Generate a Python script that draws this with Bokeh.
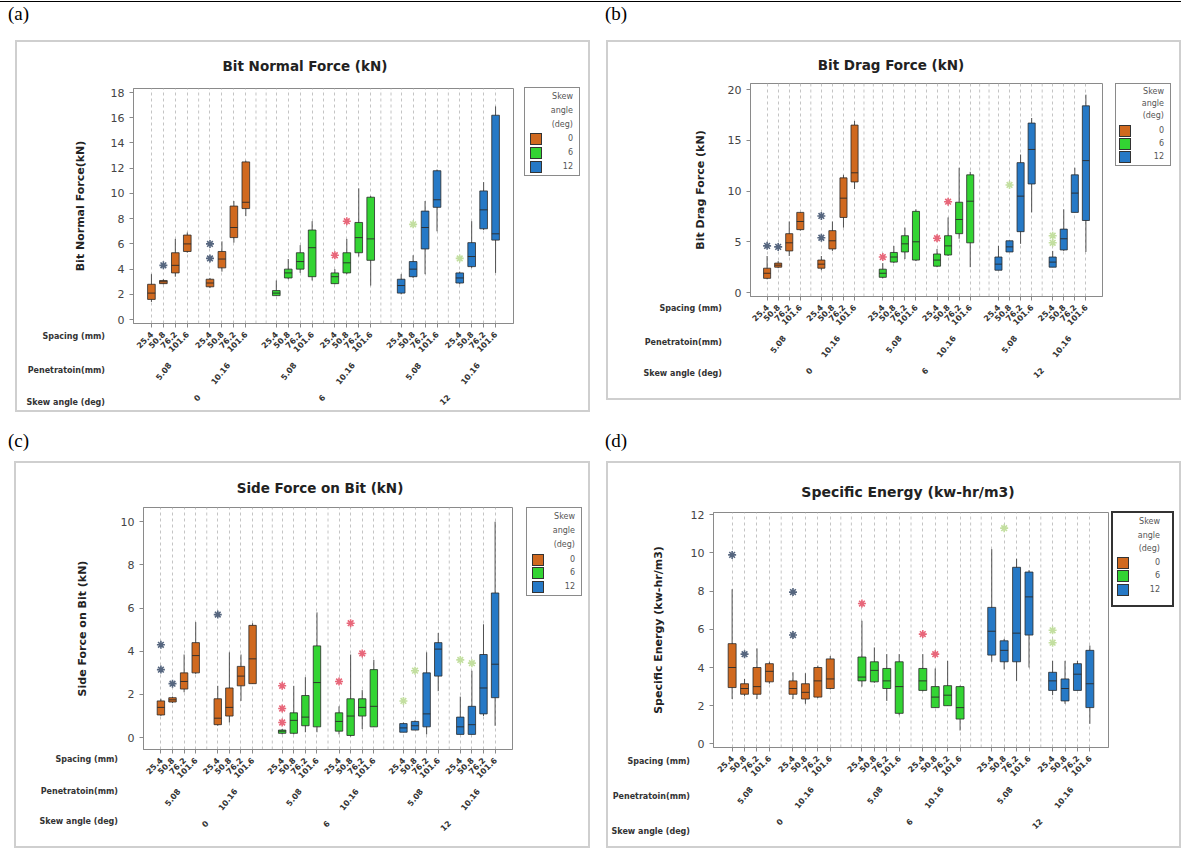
import math
from bokeh.plotting import figure
from bokeh.models import (ColumnDataSource, FactorRange, Range1d, Div, Spacer, CDSView, GroupFilter)
from bokeh.layouts import column, row
from bokeh.transform import dodge
from bokeh.embed import file_html
from bokeh.resources import INLINE

FONT = "DejaVu Sans"

skew_angles = ["0", "6", "12"]
penetrations = ["5.08", "10.16"]
spacings = ["25.4", "50.8", "76.2", "101.6"]

box_colors = {"0": "#D0691F", "6": "#33D433", "12": "#2679C6"}
outlier_colors = {"0": "#56667f", "6": "#e8677a", "12": "#c3dfa0"}

# ---------------- (a) Bit Normal Force (kN) ----------------
a_title = "Bit Normal Force (kN)"
a_ylabel = "Bit Normal Force(kN)"
a_low  = [1.4, 2.8, 3.4, 5.3, 2.5, 3.8, 6.1, 8.2, 1.9, 3.2, 3.7, 3.1, 2.8, 3.6, 5.0, 2.7, 2.0, 3.3, 3.6, 7.0, 2.8, 4.1, 7.1, 3.7]
a_q1   = [1.6, 2.85, 3.7, 5.4, 2.6, 4.1, 6.5, 8.8, 1.9, 3.3, 4.0, 3.4, 2.85, 3.7, 5.3, 4.7, 2.1, 3.4, 5.6, 8.9, 2.9, 4.2, 7.2, 6.3]
a_med  = [2.1, 3.0, 4.3, 6.0, 2.9, 4.8, 7.3, 9.3, 2.1, 3.7, 4.6, 5.7, 3.4, 4.5, 6.5, 6.4, 2.7, 4.0, 7.3, 9.5, 3.3, 5.0, 8.7, 6.8]
a_q3   = [2.8, 3.1, 5.3, 6.7, 3.2, 5.4, 9.0, 12.5, 2.3, 4.0, 5.3, 7.1, 3.7, 5.3, 7.7, 9.7, 3.2, 4.6, 8.6, 11.8, 3.7, 6.1, 10.2, 16.2]
a_high = [3.6, 3.2, 6.4, 6.9, 3.3, 6.2, 9.4, 12.6, 3.1, 4.8, 5.9, 7.8, 4.0, 6.4, 10.4, 9.8, 3.6, 5.1, 9.4, 11.9, 3.8, 7.8, 10.9, 16.9]
a_out_idx = [1, 4, 4, 12, 13, 17, 20]
a_out_val = [4.3, 4.85, 6.0, 5.1, 7.8, 7.55, 4.85]
a_yticks = [0, 2, 4, 6, 8, 10, 12, 14, 16, 18]

# ---------------- (b) Bit Drag Force (kN) ----------------
b_title = "Bit Drag Force (kN)"
b_ylabel = "Bit Drag Force (kN)"
b_low  = [1.3, 2.4, 3.6, 6.1, 2.2, 4.1, 6.4, 10.2, 1.4, 2.9, 3.3, 3.1, 2.5, 3.6, 5.3, 2.5, 2.2, 4.0, 4.8, 7.9, 2.5, 4.1, 7.9, 4.0]
b_q1   = [1.4, 2.5, 4.1, 6.2, 2.4, 4.3, 7.4, 10.9, 1.5, 3.0, 4.0, 3.2, 2.6, 3.7, 5.8, 4.9, 2.2, 4.0, 6.0, 10.7, 2.5, 4.2, 7.9, 7.1]
b_med  = [1.9, 2.7, 4.9, 7.0, 2.8, 5.1, 9.3, 11.8, 1.9, 3.5, 4.8, 5.0, 3.2, 4.6, 7.2, 9.0, 2.8, 4.5, 9.5, 14.1, 3.0, 5.3, 9.8, 13.0]
b_q3   = [2.4, 2.9, 5.8, 7.9, 3.2, 6.1, 11.3, 16.5, 2.3, 3.95, 5.6, 8.0, 3.8, 5.6, 8.9, 11.6, 3.5, 5.1, 12.8, 16.7, 3.5, 6.25, 11.6, 18.4]
b_high = [3.6, 3.1, 7.0, 7.9, 3.6, 7.0, 11.6, 16.9, 2.9, 4.6, 6.4, 8.2, 4.3, 7.4, 12.3, 11.9, 4.6, 5.1, 13.6, 17.2, 4.1, 8.2, 12.3, 19.5]
b_out_idx = [0, 1, 4, 4, 8, 12, 13, 17, 20, 20]
b_out_val = [4.6, 4.5, 5.4, 7.55, 3.5, 5.35, 8.95, 10.6, 4.9, 5.6]
b_yticks = [0, 5, 10, 15, 20]

# ---------------- (c) Side Force on Bit (kN) ----------------
c_title = "Side Force on Bit (kN)"
c_ylabel = "Side Force on Bit (kN)"
c_low  = [1.0, 1.6, 2.1, 2.95, 0.55, 0.7, 1.7, 2.5, 0.15, 0.15, 0.25, 0.25, 0.15, 0.05, 0.4, 0.5, 0.25, 0.35, 0.15, 2.15, 0.15, 0.15, 1.0, 0.55]
c_q1   = [1.05, 1.65, 2.25, 3.0, 0.6, 1.0, 2.4, 2.5, 0.2, 0.2, 0.55, 0.5, 0.3, 0.1, 1.0, 0.5, 0.25, 0.35, 0.5, 2.85, 0.15, 0.15, 1.1, 1.85]
c_med  = [1.4, 1.75, 2.6, 3.8, 0.9, 1.4, 2.85, 3.65, 0.3, 0.8, 0.95, 2.55, 0.75, 1.0, 1.4, 1.45, 0.45, 0.55, 1.1, 4.1, 0.5, 0.6, 2.3, 3.4]
c_q3   = [1.7, 1.85, 3.0, 4.4, 1.8, 2.3, 3.3, 5.2, 0.35, 1.15, 1.95, 4.25, 1.15, 1.8, 1.8, 3.15, 0.65, 0.75, 3.0, 4.4, 0.95, 1.45, 3.85, 6.7]
c_high = [1.8, 1.9, 3.85, 5.35, 2.4, 3.95, 3.85, 5.3, 0.4, 2.4, 2.8, 5.8, 1.45, 3.85, 2.2, 3.6, 0.7, 0.8, 3.95, 4.85, 1.9, 3.1, 5.25, 10.0]
c_out_idx = [0, 0, 1, 4, 8, 8, 8, 12, 13, 14, 16, 17, 20, 21]
c_out_val = [3.15, 4.3, 2.5, 5.7, 0.7, 1.35, 2.4, 2.6, 5.3, 3.9, 1.7, 3.1, 3.6, 3.45]
c_yticks = [0, 2, 4, 6, 8, 10]

# ---------------- (d) Specific Energy (kw-hr/m3) ----------------
d_title = "Specific Energy (kw-hr/m3)"
d_ylabel = "Specific Energy (kw-hr/m3)"
d_low  = [2.35, 2.5, 2.35, 3.15, 2.35, 2.1, 2.4, 2.85, 3.0, 3.2, 2.25, 1.5, 2.75, 1.9, 2.0, 0.7, 4.3, 3.9, 3.3, 4.0, 2.55, 2.1, 2.8, 1.05]
d_q1   = [2.95, 2.6, 2.6, 3.25, 2.6, 2.35, 2.45, 2.9, 3.3, 3.25, 2.9, 1.6, 2.8, 1.9, 2.0, 1.3, 4.65, 4.3, 4.3, 5.7, 2.8, 2.25, 2.8, 1.9]
d_med  = [4.0, 2.9, 3.0, 3.8, 2.9, 2.7, 3.3, 3.4, 3.5, 3.85, 3.3, 3.0, 3.3, 2.45, 2.55, 1.9, 5.9, 4.9, 5.8, 7.7, 3.3, 2.9, 3.65, 3.15]
d_q3   = [5.25, 3.15, 4.0, 4.2, 3.3, 3.15, 4.0, 4.45, 4.55, 4.3, 3.95, 4.3, 3.95, 3.0, 3.05, 3.0, 7.15, 5.4, 9.25, 9.0, 3.75, 3.4, 4.2, 4.9]
d_high = [8.1, 3.4, 5.0, 4.3, 3.75, 3.7, 4.1, 4.6, 6.45, 5.05, 4.7, 4.7, 4.7, 3.95, 4.35, 3.05, 10.2, 5.5, 9.7, 9.1, 4.35, 4.35, 4.35, 5.15]
d_out_idx = [0, 1, 4, 4, 8, 12, 13, 17, 20, 20]
d_out_val = [9.9, 4.7, 5.7, 7.95, 7.35, 5.75, 4.7, 11.3, 5.3, 5.95]
d_yticks = [0, 2, 4, 6, 8, 10, 12]

row_titles = ["Spacing (mm)", "Penetratoin(mm)", "Skew angle (deg)"]
legend_title_lines = ["Skew", "angle", "(deg)"]
panel_tags = ["(a)", "(b)", "(c)", "(d)"]

factors = [(s, pn, sp) for s in skew_angles for pn in penetrations for sp in spacings]


def make_panel(low, q1, med, q3, high, out_idx, out_val, ylabel, yr, yticks,
               W, H, mbl, mbr, mbt, mbb, ax_stand):
    xr = FactorRange(*factors, factor_padding=0, subgroup_padding=0.9, group_padding=1.55,
                     range_padding=1, range_padding_units="absolute")
    p = figure(x_range=xr, y_range=Range1d(yr[0], yr[1]), width=W, height=H,
               output_backend="svg", toolbar_location=None,
               min_border_left=mbl, min_border_right=mbr, min_border_top=mbt,
               min_border_bottom=mbb)
    p.background_fill_color = "white"
    p.border_fill_color = "white"
    p.outline_line_color = "#8a8a8a"
    p.outline_line_width = 1

    p.ygrid.visible = False
    p.xgrid.grid_line_color = "#c4c4c4"
    p.xgrid.grid_line_dash = "3 3"
    p.xgrid.grid_line_width = 1

    # extra dashed gridlines in the gaps between groups
    gap_x = []
    for si, s in enumerate(skew_angles):
        for pi_, pn in enumerate(penetrations):
            last = (s, pn, spacings[-1])
            if pi_ == 0:
                gap_x.append(list(last) + [0.95])
            elif si < len(skew_angles) - 1:
                gap_x.append(list(last) + [0.85])
                gap_x.append(list(last) + [1.7])
    gsrc = ColumnDataSource(dict(x=gap_x, y0=[yr[0]] * len(gap_x), y1=[yr[1]] * len(gap_x)))
    p.segment(x0="x", y0="y0", x1="x", y1="y1", source=gsrc, line_color="#c4c4c4",
              line_dash="3 3", line_width=1)

    src = ColumnDataSource(dict(
        x=factors, low=low, q1=q1, med=med, q3=q3, high=high,
        skew=[f[0] for f in factors],
    ))
    p.segment(x0="x", y0="low", x1="x", y1="high", source=src, line_color="#505050",
              line_width=1)
    for s in skew_angles:
        view = CDSView(filter=GroupFilter(column_name="skew", group=s))
        p.vbar(x="x", width=0.64, bottom="q1", top="q3", source=src, view=view,
               fill_color=box_colors[s], line_color="#2a2a2a", line_width=0.8)
    p.segment(x0=dodge("x", -0.32, range=xr), y0="med", x1=dodge("x", 0.32, range=xr),
              y1="med", source=src, line_color="#2a2a2a", line_width=0.9)

    osrc = ColumnDataSource(dict(
        x=[factors[i] for i in out_idx], y=out_val,
        color=[outlier_colors[factors[i][0]] for i in out_idx],
    ))
    p.scatter(x="x", y="y", source=osrc, marker="asterisk", size=8, line_color="color",
              line_width=1.6)

    p.yaxis.ticker = yticks
    p.yaxis.axis_label = ylabel
    p.yaxis.axis_label_text_font = FONT
    p.yaxis.axis_label_text_font_size = "11px"
    p.yaxis.axis_label_text_font_style = "bold"
    p.yaxis.axis_label_text_color = "#222"
    p.yaxis.axis_label_standoff = ax_stand
    p.yaxis.major_label_text_font = FONT
    p.yaxis.major_label_text_font_size = "11px"
    p.yaxis.major_label_text_color = "#444"
    p.yaxis.minor_tick_line_color = None
    p.yaxis.major_tick_in = 0
    p.yaxis.major_tick_out = 4
    p.yaxis.axis_line_color = "#8a8a8a"
    p.yaxis.major_tick_line_color = "#8a8a8a"

    p.xaxis.axis_line_color = "#8a8a8a"
    p.xaxis.major_tick_line_color = "#8a8a8a"
    p.xaxis.major_tick_in = 0
    p.xaxis.major_tick_out = 4
    p.xaxis.separator_line_color = None
    p.xaxis.major_label_orientation = math.pi / 4
    p.xaxis.subgroup_label_orientation = 0.9
    p.xaxis.group_label_orientation = math.pi / 4
    for pre in ("major_label_text", "subgroup_text", "group_text"):
        setattr(p.xaxis, pre + "_font", FONT)
        setattr(p.xaxis, pre + "_font_size", "8px")
        setattr(p.xaxis, pre + "_font_style", "bold")
        setattr(p.xaxis, pre + "_color", "#333")
    return p


# Row 1 shares top/bottom borders (43 / 86); row 2 shares (46 / 98).
fa = make_panel(a_low, a_q1, a_med, a_q3, a_high, a_out_idx, a_out_val, a_ylabel,
                (-0.31, 18.32), a_yticks, 575, 366, 118, 77, 43, 86, 21)
fb = make_panel(b_low, b_q1, b_med, b_q3, b_high, b_out_idx, b_out_val, b_ylabel,
                (-0.39, 20.6), b_yticks, 575, 344, 144, 79, 43, 86, 18)
fc = make_panel(c_low, c_q1, c_med, c_q3, c_high, c_out_idx, c_out_val, c_ylabel,
                (-0.55, 10.66), c_yticks, 576, 386, 129, 78, 46, 98, 29)
fd = make_panel(d_low, d_q1, d_med, d_q3, d_high, d_out_idx, d_out_val, d_ylabel,
                (-0.19, 12.12), d_yticks, 575, 379, 107, 73, 46, 98, 23)

# ---------------- HTML overlay: panel frames, tags, titles, row titles, legends ----------------
def txt(s, x, y, size, weight="normal", align="left", family=FONT, color="#222"):
    if align == "right":
        pos = f"right:{1181 - x}px;"
    elif align == "center":
        pos = f"left:{x - 200}px;width:400px;text-align:center;"
    else:
        pos = f"left:{x}px;"
    return (f'<div style="position:absolute;{pos}top:{y - size * 0.6:.1f}px;'
            f'font-family:\'{family}\';font-size:{size}px;font-weight:{weight};'
            f'color:{color};line-height:{size * 1.2:.1f}px;white-space:nowrap;">{s}</div>')


def box(left, top, w, h, border, bg="transparent"):
    return (f'<div style="position:absolute;left:{left}px;top:{top}px;width:{w}px;height:{h}px;'
            f'border:{border};box-sizing:border-box;background:{bg};"></div>')


def legend_html(left, top, w, h, border, text_right, title_ys, sq_left, sq_tops, sq):
    out = box(left, top, w, h, border, "white")
    for line, yy in zip(legend_title_lines, title_ys):
        out += txt(line, text_right, yy, 8, align="right", color="#555")
    for s, t in zip(skew_angles, sq_tops):
        out += (f'<div style="position:absolute;left:{sq_left}px;top:{t}px;width:{sq}px;'
                f'height:{sq}px;background:{box_colors[s]};border:1px solid #333;'
                f'box-sizing:border-box;"></div>')
        out += txt(s, text_right, t + sq / 2, 8, align="right", color="#555")
    return out


ov = []
ov.append('<div style="position:absolute;left:0;top:1px;width:1181px;height:0;border-top:1px solid #000;"></div>')
for (l, t, w, h) in [(15, 40, 575, 372), (606, 40, 575, 360), (14, 461, 576, 387), (606, 461, 575, 387)]:
    ov.append(box(l, t, w, h, "2px solid #cfcfcf"))
for tag, (x, y) in zip(panel_tags, [(8, 14), (605, 14), (8, 441), (605, 441)]):
    ov.append(txt(tag, x, y, 19, family="Liberation Serif", color="#000"))
for t, (x, y), size in zip([a_title, b_title, c_title, d_title],
                           [(305, 66), (891, 65), (320, 488), (908, 492)],
                           [13.5, 13.5, 13.5, 14]):
    ov.append(txt(t, x, y, size, weight="bold", align="center"))
for xr_, ys in [(105, [337, 371, 403]), (722, [309, 343, 374]),
                (118, [760, 792, 822]), (690, [762, 797, 832])]:
    for t, y in zip(row_titles, ys):
        ov.append(txt(t, xr_, y, 8, weight="bold", align="right", color="#333"))
ov.append(legend_html(524, 87, 56, 89, "1px solid #8a8a8a", 573, [97, 111, 125], 530, [133, 147, 161], 12))
ov.append(legend_html(1115, 83, 56, 83, "1px solid #8a8a8a", 1164, [92, 104, 116], 1119, [125, 138, 151], 12))
ov.append(legend_html(526, 507, 56, 89, "1px solid #8a8a8a", 575, [517, 531, 545], 532, [554, 567, 581], 12))
ov.append(legend_html(1111, 511, 63, 96, "2px solid #333", 1160, [522, 536, 549], 1117, [557, 570, 584], 12))

overlay = Div(
    text='<div style="position:absolute;left:0;top:0;width:1181px;height:848px;">' + "".join(ov) + "</div>",
    width=1181, height=40, margin=0,
    styles={"overflow": "visible", "z-index": "10"},
    stylesheets=[":host{overflow:visible !important;z-index:10;} div{overflow:visible !important;}"],
)

layout = column(
    overlay,
    row(Spacer(width=15, height=371),
        column(Spacer(width=575, height=5), fa, spacing=0),
        Spacer(width=16, height=371),
        column(fb, Spacer(width=575, height=27), spacing=0),
        spacing=0),
    Spacer(width=1181, height=50),
    row(Spacer(width=14, height=386),
        fc,
        Spacer(width=16, height=386),
        column(Spacer(width=575, height=5), fd, Spacer(width=575, height=2), spacing=0),
        spacing=0),
    spacing=0,
)

open("out.html", "w").write(file_html(layout, INLINE))
